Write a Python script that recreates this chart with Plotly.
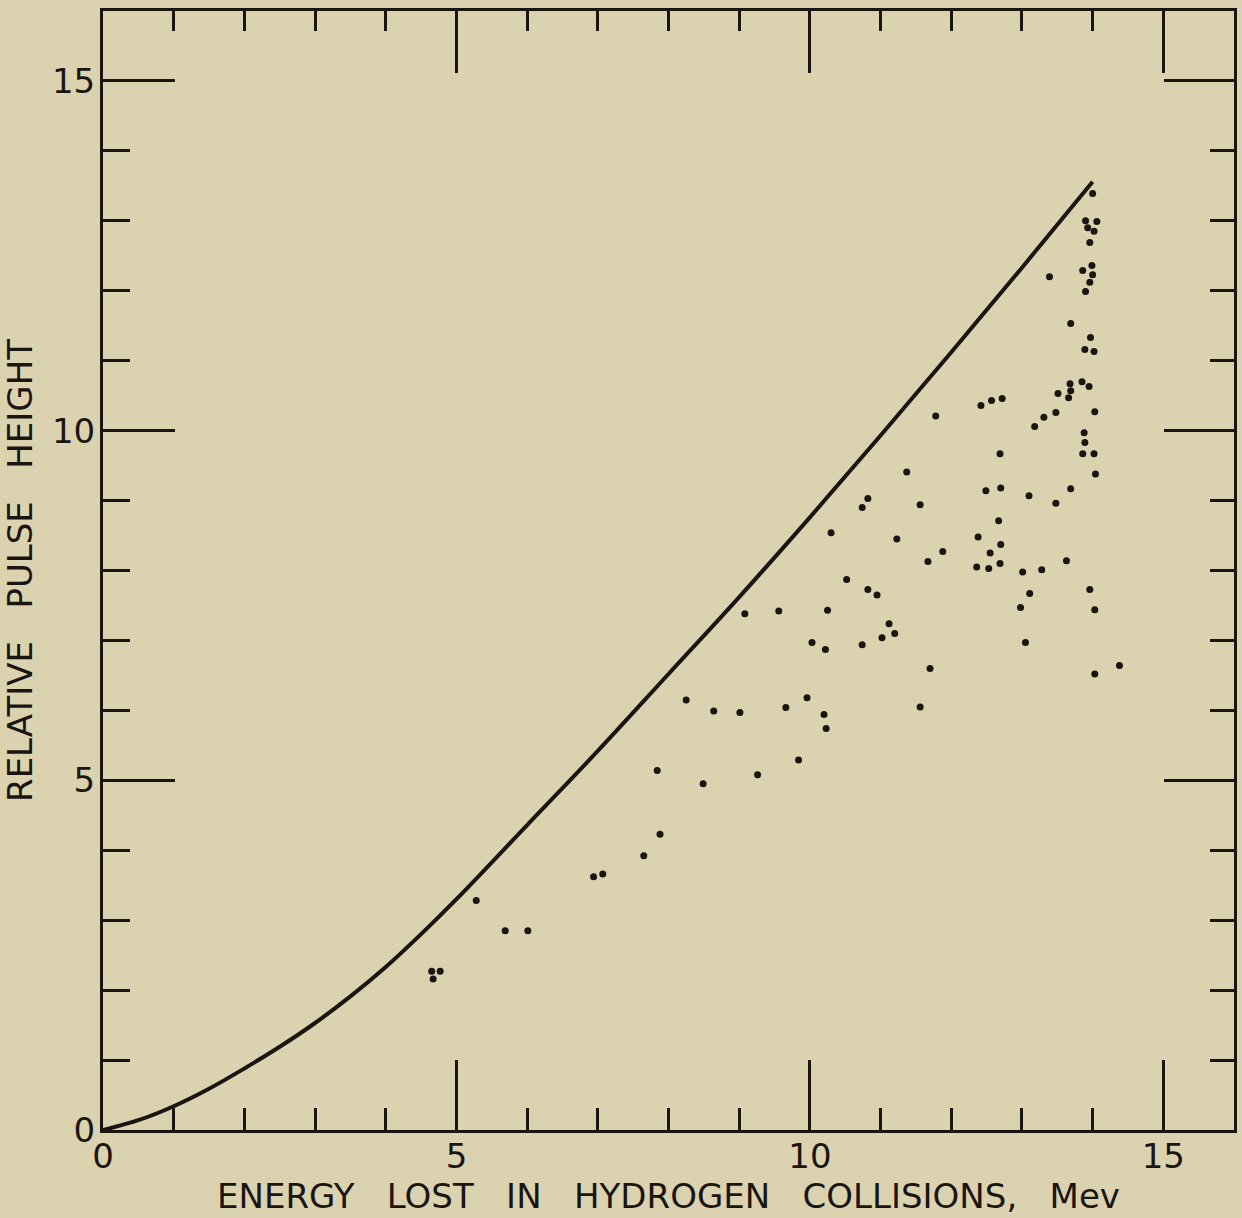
import plotly.graph_objects as go

# Measured points: energy lost (Mev) vs relative pulse height
energy = [4.65, 4.77, 4.67, 5.28, 5.69, 6.01, 6.94, 7.07, 7.65, 7.88, 7.84, 8.49, 9.26, 9.84,
          8.25, 8.64, 9.01, 9.66, 9.96, 10.20, 10.23, 9.08, 9.56, 10.03, 10.22, 10.25, 10.52,
          10.74, 10.82, 10.95, 11.02, 11.12, 11.20, 10.30, 10.74, 10.82, 11.23, 11.37, 11.56,
          11.67, 11.88, 11.78, 11.70, 11.56, 12.36, 12.38, 12.42, 12.49, 12.53, 12.55, 12.57,
          12.67, 12.69, 12.69, 12.70, 12.70, 12.72, 12.98, 13.01, 13.05, 13.10, 13.11, 13.18,
          13.28, 13.31, 13.39, 13.48, 13.48, 13.51, 13.63, 13.66, 13.68, 13.69, 13.69, 13.69,
          13.85, 13.86, 13.86, 13.88, 13.89, 13.89, 13.90, 13.90, 13.93, 13.95, 13.96, 13.96,
          13.96, 13.97, 13.99, 14.00, 14.00, 14.02, 14.02, 14.02, 14.03, 14.03, 14.03, 14.04,
          14.06, 14.38]
pulse = [2.27, 2.27, 2.16, 3.28, 2.85, 2.85, 3.62, 3.66, 3.92, 4.23, 5.14, 4.95, 5.08, 5.29,
         6.15, 5.99, 5.97, 6.04, 6.18, 5.94, 5.74, 7.38, 7.42, 6.97, 6.87, 7.43, 7.87,
         6.94, 7.73, 7.65, 7.04, 7.24, 7.10, 8.54, 8.90, 9.03, 8.45, 9.41, 8.94,
         8.13, 8.27, 10.21, 6.60, 6.05, 8.05, 8.48, 10.36, 9.14, 8.03, 8.25, 10.43,
         8.71, 8.10, 9.67, 8.37, 9.18, 10.46, 7.47, 7.98, 6.97, 9.07, 7.67, 10.06,
         8.01, 10.19, 12.20, 8.96, 10.26, 10.53, 8.14, 10.47, 10.67, 10.57, 11.53, 9.17,
         10.70, 12.29, 9.67, 9.97, 9.83, 11.16, 11.99, 13.00, 12.90, 10.63, 12.12, 12.69,
         7.73, 11.33, 12.36, 12.23, 13.39, 9.67, 11.13, 12.85, 10.27, 7.44, 6.52, 9.38,
         12.99, 6.64]

# Theoretical curve
curve_x = [0, 0.5, 1, 1.5, 2, 2.5, 3, 3.5, 4, 4.5, 5, 6, 7, 8, 9, 10, 11, 12, 13, 14]
curve_y = [0, 0.14, 0.34, 0.59, 0.88, 1.19, 1.53, 1.91, 2.33, 2.80, 3.30, 4.36, 5.42, 6.52,
           7.62, 8.76, 9.93, 11.12, 12.33, 13.56]

x_ticks = [0, 5, 10, 15]
y_ticks = [0, 5, 10, 15]
x_title = "ENERGY   LOST   IN   HYDROGEN   COLLISIONS,   Mev"
y_title = "RELATIVE   PULSE   HEIGHT"

INK = "#1b1511"
BG = "#dbd2b0"
FONT = "DejaVu Sans"

fig = go.Figure()
fig.add_trace(go.Scatter(x=curve_x, y=curve_y, mode="lines",
                         line=dict(color=INK, width=4, shape="spline", smoothing=1.0),
                         hoverinfo="skip", showlegend=False))
fig.add_trace(go.Scatter(x=energy, y=pulse, mode="markers",
                         marker=dict(color=INK, size=7, line=dict(width=0)),
                         showlegend=False))
# invisible trace to anchor mirrored axes
fig.add_trace(go.Scatter(x=[None], y=[None], xaxis="x2", yaxis="y2", showlegend=False))

common = dict(range=[0, 16], showgrid=False, zeroline=False, ticks="inside", automargin=False,
              tickcolor=INK, tickwidth=2.5, linecolor=INK, linewidth=3, showline=True,
              tickmode="array", tickvals=[0, 5, 10, 15])

fig.update_layout(
    width=1242, height=1218,
    margin=dict(l=103, r=8, t=11, b=88),
    paper_bgcolor=BG, plot_bgcolor=BG,
    font=dict(family=FONT, color=INK, size=33),
    xaxis=dict(**common, ticklen=70, ticktext=[str(v) for v in x_ticks],
               minor=dict(dtick=1, tick0=0, ticks="inside", ticklen=22, tickwidth=2.5, tickcolor=INK),
               tickfont=dict(size=34, family=FONT), ticklabelstandoff=-6,
               title=dict(text=x_title, font=dict(size=34, family=FONT), standoff=8)),
    yaxis=dict(**common, ticklen=72, ticktext=[str(v) for v in y_ticks],
               minor=dict(dtick=1, tick0=0, ticks="inside", ticklen=27, tickwidth=2.5, tickcolor=INK),
               tickfont=dict(size=34, family=FONT), ticklabelstandoff=-2,
               title=dict(text=y_title, font=dict(size=34, family=FONT), standoff=12)),
    xaxis2=dict(**common, overlaying="x", side="top", anchor="y2", ticklen=62,
                showticklabels=False,
                minor=dict(dtick=1, tick0=0, ticks="inside", ticklen=20, tickwidth=2.5, tickcolor=INK)),
    yaxis2=dict(**common, overlaying="y", side="right", anchor="x2", ticklen=70,
                showticklabels=False,
                minor=dict(dtick=1, tick0=0, ticks="inside", ticklen=24, tickwidth=2.5, tickcolor=INK)),
)

fig.write_html("out.html", config={"displayModeBar": False},
               post_script="document.body.style.margin='0';document.body.style.background='%s';" % BG)
